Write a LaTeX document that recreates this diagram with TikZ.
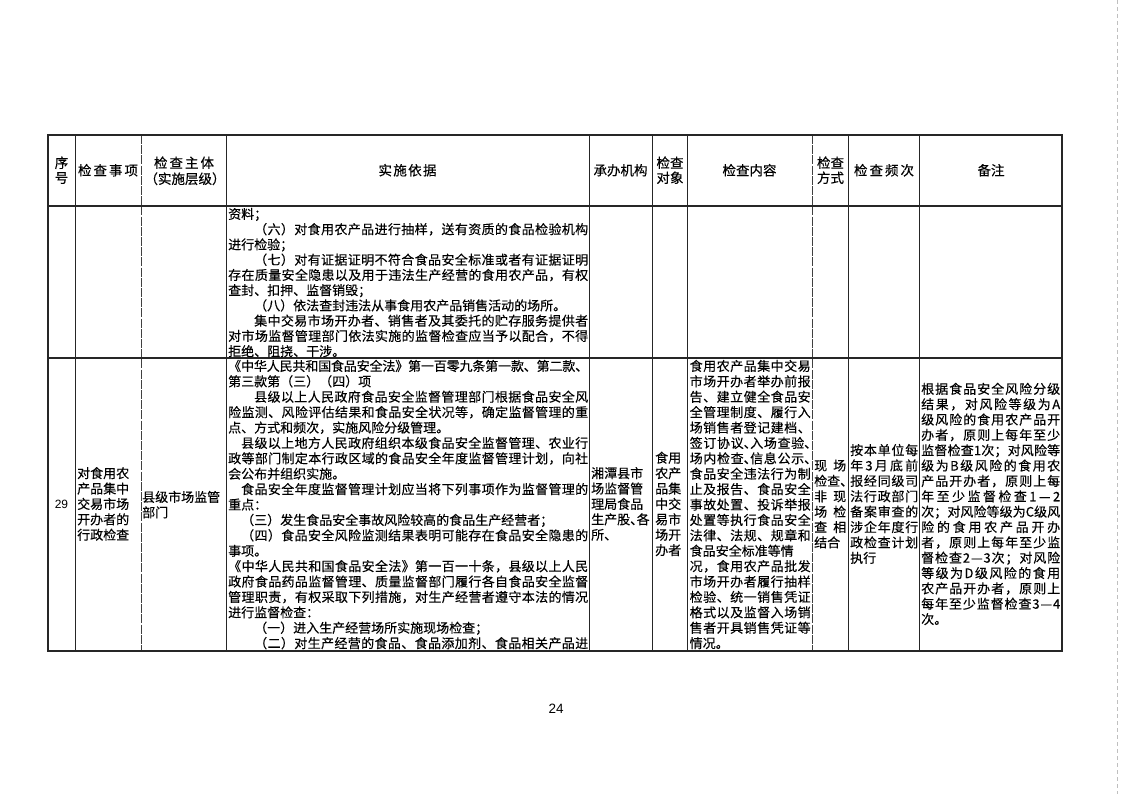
\documentclass[tikz,border=0pt]{standalone}
\usepackage{fontspec}
\setmainfont{Noto Sans CJK SC}[FakeBold=0.25]
\newfontfamily\latinsans{Liberation Sans}
\newcount\cjkc
\cjkc="3000 \loop \XeTeXcharclass\cjkc=1 \advance\cjkc by 1 \ifnum\cjkc<"3040 \repeat
\cjkc="4E00 \loop \XeTeXcharclass\cjkc=1 \advance\cjkc by 1 \ifnum\cjkc<"A000 \repeat
\cjkc="FF00 \loop \XeTeXcharclass\cjkc=1 \advance\cjkc by 1 \ifnum\cjkc<"FF60 \repeat
\XeTeXcharclass"2014=1
\XeTeXinterchartokenstate=1
\XeTeXinterchartoks 1 1 = {\hskip 0pt plus 3pt minus 0.6pt\relax}
\XeTeXinterchartoks 0 1 = {\hskip 0pt plus 3pt minus 0.6pt\relax}
\XeTeXinterchartoks 1 0 = {\hskip 0pt plus 3pt minus 0.6pt\relax}
\hbadness=10000 \hfuzz=20pt
\newcommand\J[2][360pt]{\makebox[#1][s]{#2}}
\newcommand\hw[1]{\makebox[0.5em][l]{#1}}
\tikzset{
  txt/.style={font=\fontsize{13}{15}\selectfont, inner sep=0pt, anchor=base west},
  hd/.style={font=\fontsize{13.5}{15}\selectfont, inner sep=0pt, anchor=base},
  outer/.style={line width=1.3pt, black!85},
  rowline/.style={line width=1.1pt, black!85},
  colline/.style={line width=0.8pt, black!85},
  scanline/.style={line width=0.8pt, black!75, dash pattern=on 9pt off 1.2pt},
}
\begin{document}
\begin{tikzpicture}[x=1pt,y=-1pt]
\useasboundingbox (0,0) rectangle (1123,794);
\fill[white] (0,0) rectangle (1123,794);
% scan artefact on right edge
\draw[black!25, line width=0.6pt, dash pattern=on 4pt off 3pt] (1117,0) -- (1117,794);

% ---------- grid ----------
\foreach \x in {75,226,589,652,687,848,919}
  \draw[colline] (\x,135) -- (\x,651);
\foreach \x in {141,812}
  \draw[scanline] (\x,135) -- (\x,651);
\draw[rowline] (48,206) -- (1062,206);
\draw[rowline] (48,358) -- (1062,358);
\draw[outer] (48,135) rectangle (1062,651);

% ---------- header ----------
\node[hd] (h1a) at (61.5,167.9) {序};
\node[hd] (h1b) at (61.5,182.9) {号};
\node[hd] (h2) at (108,175.4) {\J[60pt]{检查事项}};
\node[hd] (h3a) at (184,167.9) {\J[60pt]{检查主体}};
\node[hd] (h3b) at (185,183.9) {（实施层级）};
\node[hd] (h4) at (407.5,175.4) {\J[58pt]{实施依据}};
\node[hd] (h5) at (620.5,175.4) {承办机构};
\node[hd] (h6a) at (670,167.9) {检查};
\node[hd] (h6b) at (670,182.9) {对象};
\node[hd] (h7) at (749.5,175.4) {检查内容};
\node[hd] (h8a) at (830.5,167.9) {检查};
\node[hd] (h8b) at (830.5,182.9) {方式};
\node[hd] (h9) at (884,175.4) {\J[60pt]{检查频次}};
\node[hd] (h10) at (991,175.4) {备注};

% ---------- row 1 (continuation) ----------
\foreach \t [count=\i from 0] in {
  资料；,
  \J{\hspace*{2em}（六）对食用农产品进行抽样，送有资质的食品检验机构},
  进行检验；,
  \J{\hspace*{2em}（七）对有证据证明不符合食品安全标准或者有证据证明},
  \J{存在质量安全隐患以及用于违法生产经营的食用农产品，有权},
  查封、扣押、监督销毁；,
  \hspace*{2em}（八）依法查封违法从事食用农产品销售活动的场所。,
  \J{\hspace*{2em}集中交易市场开办者、销售者及其委托的贮存服务提供者},
  \J{对市场监督管理部门依法实施的监督检查应当予以配合，不得},
  拒绝、阻挠、干涉。}
  \node[txt] (ra\i) at (228,218.9+15.25*\i) {\t};

% ---------- row 2 ----------
\node[font=\latinsans\fontsize{12}{14}\selectfont, inner sep=0pt] (no29) at (61.5,504.5) {29};

\foreach \t [count=\i from 0] in {对食用农,产品集中,交易市场,开办者的,行政检查}
  \node[txt] (item\i) at (77,473.2+4.9+15.4*\i) {\t};

\node[txt] (subj0) at (142,497+4.9) {县级市场监管};
\node[txt] (subj1) at (142,512.4+4.9) {部门};

\foreach \t [count=\i from 0] in {
  \J{《中华人民共和国食品安全法》第一百零九条第一款、第二款、},
  第三款第（三）（四）项,
  \J{\hspace*{2em}县级以上人民政府食品安全监督管理部门根据食品安全风},
  \J{险监测、风险评估结果和食品安全状况等，确定监督管理的重},
  点、方式和频次，实施风险分级管理。,
  \J{\hspace*{1em}县级以上地方人民政府组织本级食品安全监督管理、农业行},
  \J{政等部门制定本行政区域的食品安全年度监督管理计划，向社},
  会公布并组织实施。,
  \J{\hspace*{1em}食品安全年度监督管理计划应当将下列事项作为监督管理的},
  重点：,
  \hspace*{1em}（三）发生食品安全事故风险较高的食品生产经营者；,
  \J{\hspace*{1em}（四）食品安全风险监测结果表明可能存在食品安全隐患的},
  事项。,
  \J{《中华人民共和国食品安全法》第一百一十条，县级以上人民},
  \J{政府食品药品监督管理、质量监督部门履行各自食品安全监督},
  \J{管理职责，有权采取下列措施，对生产经营者遵守本法的情况},
  进行监督检查：,
  \hspace*{2em}（一）进入生产经营场所实施现场检查；,
  \J{\hspace*{2em}（二）对生产经营的食品、食品添加剂、食品相关产品进}}
  \node[txt] (rb\i) at (228,370.9+15.4*\i) {\t};

\foreach \t [count=\i from 0] in {湘潭县市,场监督管,理局食品,生产股\hw{、}各,所、}
  \node[txt] (org\i) at (591,473.2+4.9+15.4*\i) {\t};

\foreach \t [count=\i from 0] in {食用,农产,品集,中交,易市,场开,办者}
  \node[txt] (obj\i) at (655,457.8+4.9+15.4*\i) {\t};

\foreach \t [count=\i from 0] in {
  \J[121pt]{食用农产品集中交易},
  \J[121pt]{市场开办者举办前报},
  \J[121pt]{告、建立健全食品安},
  \J[121pt]{全管理制度、履行入},
  \J[121pt]{场销售者登记建档、},
  \J[121pt]{签订协议\hw{、}入场查验\hw{、}},
  \J[121pt]{场内检查\hw{、}信息公示\hw{、}},
  \J[121pt]{食品安全违法行为制},
  \J[121pt]{止及报告、食品安全},
  \J[121pt]{事故处置、投诉举报},
  \J[121pt]{处置等执行食品安全},
  \J[121pt]{法律、法规、规章和},
  食品安全标准等情,
  \J[121pt]{况，食用农产品批发},
  \J[121pt]{市场开办者履行抽样},
  \J[121pt]{检验、统一销售凭证},
  \J[121pt]{格式以及监督入场销},
  \J[121pt]{售者开具销售凭证等},
  情况。}
  \node[txt] (cnt\i) at (689.5,370.9+15.4*\i) {\t};

\foreach \t [count=\i from 0] in {
  \J[32pt]{现场},检查\hw{、},\J[32pt]{非现},\J[32pt]{场检},\J[32pt]{查相},结合}
  \node[txt] (way\i) at (814,465.5+4.9+15.4*\i) {\t};

\foreach \t [count=\i from 0] in {
  \J[68pt]{按本单位每},\J[68pt]{年3月底前},\J[68pt]{报经同级司},
  \J[68pt]{法行政部门},\J[68pt]{备案审查的},\J[68pt]{涉企年度行},
  \J[68pt]{政检查计划},执行}
  \node[txt] (freq\i) at (850,450.1+4.9+15.4*\i) {\t};

\foreach \t [count=\i from 0] in {
  \J[139pt]{根据食品安全风险分级},
  \J[139pt]{结果，对风险等级为A},
  \J[139pt]{级风险的食用农产品开},
  \J[139pt]{办者，原则上每年至少},
  \J[139pt]{监督检查1次；对风险等},
  \J[139pt]{级为B级风险的食用农},
  \J[139pt]{产品开办者，原则上每},
  \J[139pt]{年至少监督检查1—2},
  \J[139pt]{次；对风险等级为C级风},
  \J[139pt]{险的食用农产品开办},
  \J[139pt]{者，原则上每年至少监},
  \J[139pt]{督检查2—3次；对风险},
  \J[139pt]{等级为D级风险的食用},
  \J[139pt]{农产品开办者，原则上},
  \J[139pt]{每年至少监督检查3—4},
  次。}
  \node[txt] (note\i) at (921,388.9+4.9+15.35*\i) {\t};

% ---------- page number ----------
\node[font=\latinsans\fontsize{13.5}{15}\selectfont, inner sep=0pt] (page) at (556,709) {24};
\end{tikzpicture}
\end{document}
